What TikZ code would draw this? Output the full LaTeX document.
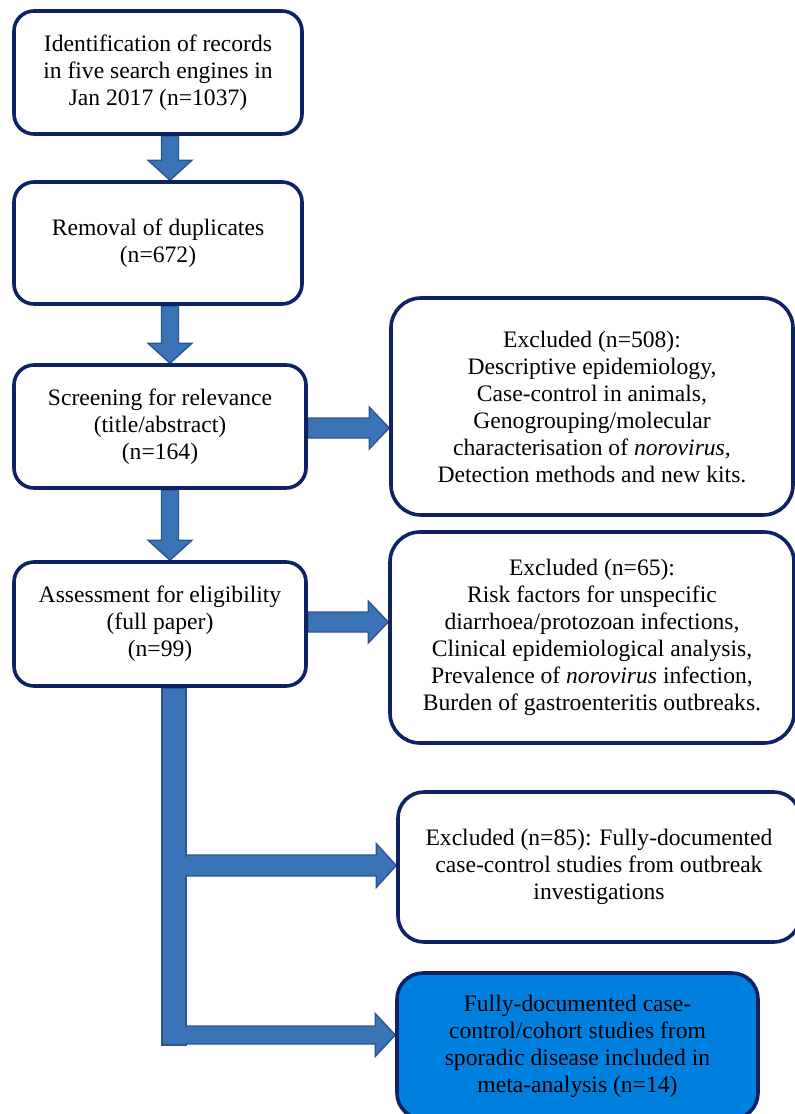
\documentclass[tikz,border=0pt]{standalone}
\usepackage{fontspec}
\setmainfont{Liberation Serif}
\usetikzlibrary{calc,backgrounds}
\definecolor{boxline}{HTML}{0F2266}
\definecolor{arrowfill}{HTML}{3A74B7}
\definecolor{arrowline}{HTML}{2D558C}
\definecolor{finalfill}{HTML}{0080DE}
\tikzset{
  stagebox/.style={draw=boxline, line width=3.6pt, fill=white, rounded corners=20pt,
    align=center, inner sep=0pt, font=\fontsize{23.6}{27}\selectfont},
  fatarrow/.style={fill=arrowfill, draw=arrowline, line width=1.4pt, line join=miter},
}
% horizontal fat arrow: #1 start, #2 tip (same height), #3 shaft half width, #4 head half width
\newcommand{\rfat}[4]{%
  \draw[fatarrow] let \p1=(#1), \p2=(#2) in
    (\x1,\y1+#3) -- (\x2-20pt,\y1+#3) -- (\x2-20pt,\y1+#4) -- (\x2,\y1)
    -- (\x2-20pt,\y1-#4) -- (\x2-20pt,\y1-#3) -- (\x1,\y1-#3) -- cycle;}
% vertical fat arrow downwards: #1 start, #2 tip
\newcommand{\dfat}[2]{%
  \draw[fatarrow] let \p1=(#1), \p2=(#2) in
    (\x1-8.5pt,\y1) -- (\x1-8.5pt,\y2+20pt) -- (\x1-22pt,\y2+20pt) -- (\x1,\y2)
    -- (\x1+22pt,\y2+20pt) -- (\x1+8.5pt,\y2+20pt) -- (\x1+8.5pt,\y1) -- cycle;}
\begin{document}
\begin{tikzpicture}[x=1pt,y=-1pt]
\useasboundingbox (0,0) rectangle (795,1114);
\clip (0,0) rectangle (795,1114);

\node[stagebox, minimum width=288pt, minimum height=123pt] (b1) at (158,72.5)
  {Identification of records\\in five search engines in\\Jan 2017 (n=1037)};
\node[stagebox, minimum width=288pt, minimum height=122pt] (b2) at (158,243)
  {Removal of duplicates\\(n=672)};
\node[stagebox, minimum width=292pt, minimum height=123pt] (b3) at (160,426.5)
  {Screening for relevance\\(title/abstract)\\(n=164)};
\node[stagebox, minimum width=292pt, minimum height=124pt] (b4) at (160,624)
  {Assessment for eligibility\\(full paper)\\(n=99)};
\node[stagebox, rounded corners=30pt, minimum width=402pt, minimum height=217pt] (b5) at (592,406.5)
  {Excluded (n=508):\\Descriptive epidemiology,\\Case-control in animals,\\Genogrouping/molecular\\characterisation of \textit{norovirus,}\\Detection methods and new kits.};
\node[stagebox, rounded corners=30pt, minimum width=404pt, minimum height=211pt] (b6) at (592,637.5)
  {Excluded (n=65):\\Risk factors for unspecific\\diarrhoea/protozoan infections,\\Clinical epidemiological analysis,\\Prevalence of \textit{norovirus} infection,\\Burden of gastroenteritis outbreaks.};
\node[stagebox, rounded corners=26pt, minimum width=402pt, minimum height=150pt] (b7) at (599,867)
  {Excluded (n=85): Fully-documented\\case-control studies from outbreak\\investigations};
\node[stagebox, fill=finalfill, rounded corners=26pt, minimum width=361pt, minimum height=146pt] (b8) at (577.5,1046)
  {Fully-documented case-\\control/cohort studies from\\sporadic disease included in\\meta-analysis (n=14)};

\begin{pgfonlayer}{background}
  % vertical arrows in the main column
  \coordinate (a1s) at ($(b1.south)+(12,0)$);
  \coordinate (a2s) at ($(b2.south)+(12,0)$);
  \coordinate (a3s) at ($(b3.south)+(10,0)$);
  \dfat{a1s}{a1s |- b2.north}
  \dfat{a2s}{a2s |- b3.north}
  \dfat{a3s}{a3s |- b4.north}
  % side arrows to the exclusion boxes
  \coordinate (r1s) at ($(b3.east)+(0,1.5)$);
  \coordinate (r2s) at ($(b4.east)+(0,-2)$);
  \rfat{r1s}{r1s -| b5.west}{10pt}{21pt}
  \rfat{r2s}{r2s -| b6.west}{10pt}{21pt}
  % long bar below the assessment box
  \coordinate (bartop) at ($(b4.south)+(14,0)$);
  \coordinate (barbot) at (174,1045);
  \draw[fatarrow] ($(bartop)+(-12,0)$) rectangle ($(barbot)+(12,0)$);
  \coordinate (r3s) at (186,865.5);
  \coordinate (r4s) at (186,1035);
  \rfat{r3s}{r3s -| b7.west}{10.5pt}{22pt}
  \rfat{r4s}{r4s -| b8.west}{9pt}{21.5pt}
  \fill[arrowfill] (183,856.5) rectangle (189,874.5);
  \fill[arrowfill] (183,1027.5) rectangle (189,1042.5);
\end{pgfonlayer}
\end{tikzpicture}
\end{document}
